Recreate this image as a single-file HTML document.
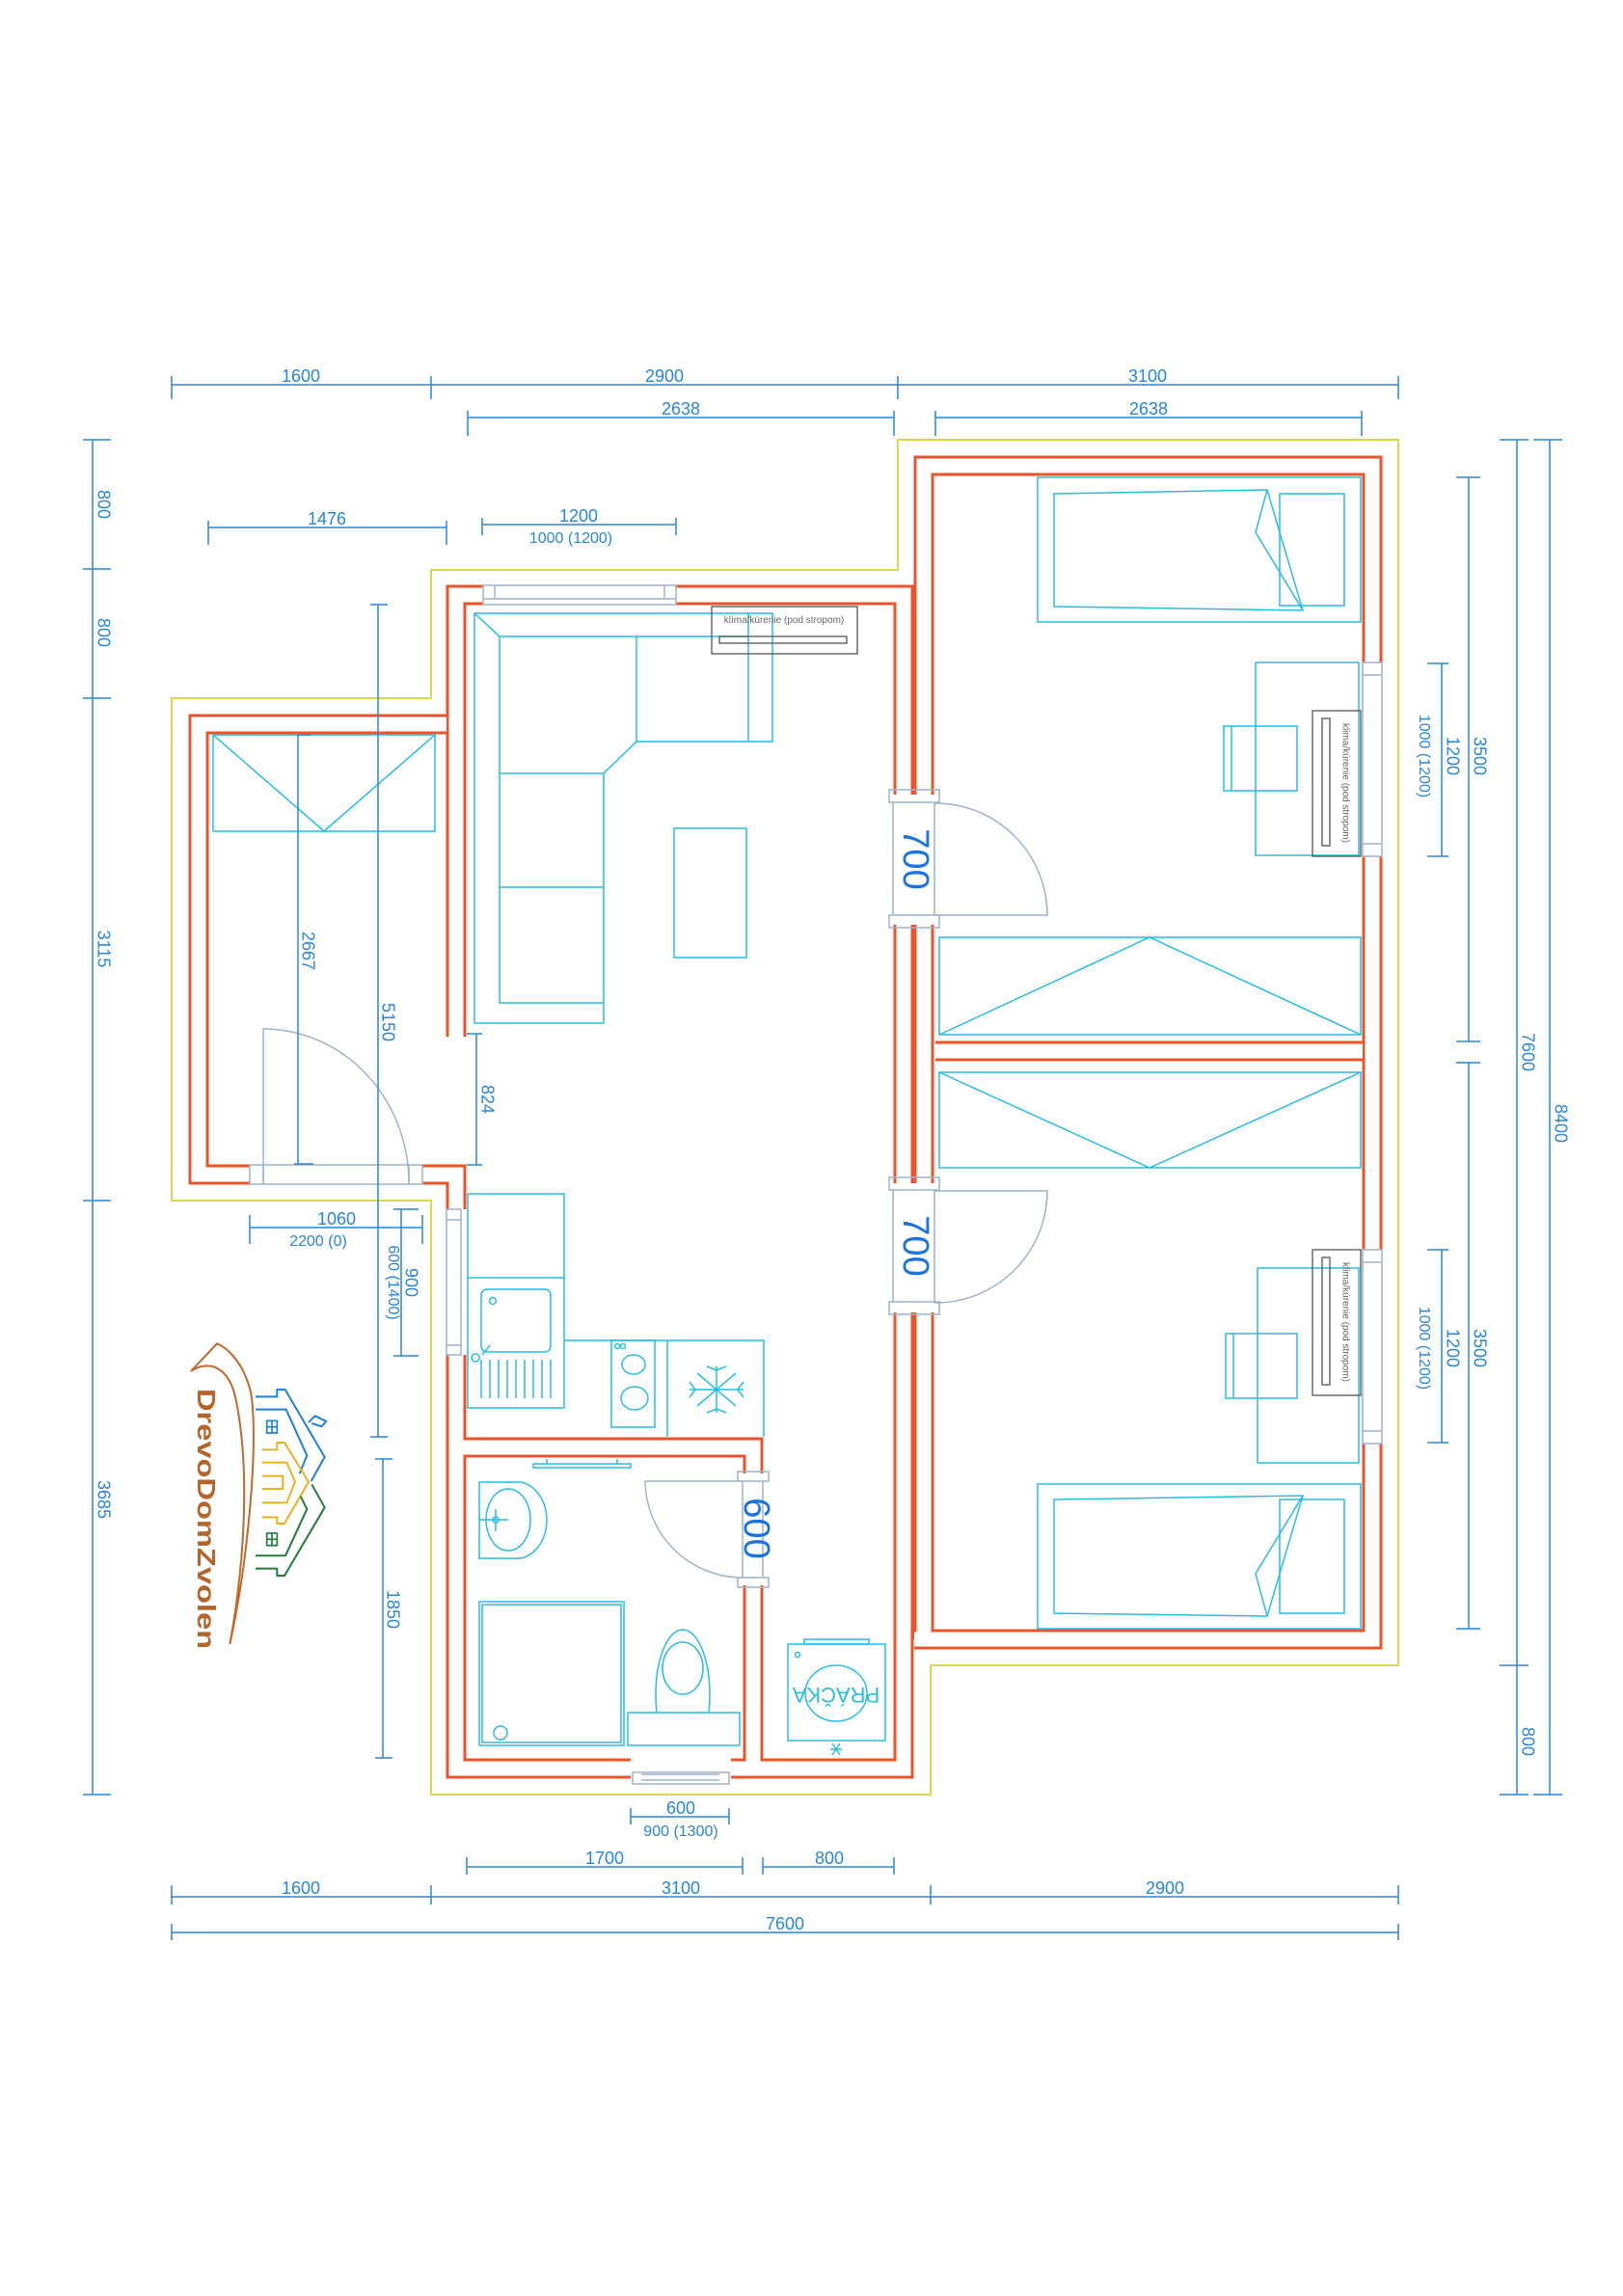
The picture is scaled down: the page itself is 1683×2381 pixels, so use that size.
<!DOCTYPE html>
<html><head><meta charset="utf-8"><style>
html,body{margin:0;padding:0;background:#fff}
svg{display:block}
text{font-family:"Liberation Sans",sans-serif}
</style></head><body>
<svg width="1683" height="2381" viewBox="0 0 1683 2381" xmlns="http://www.w3.org/2000/svg">
<rect width="1683" height="2381" fill="#fff"/>

<!-- yellow outline -->
<polygon points="178,724 447,724 447,591 931,591 931,456 1450,456 1450,1727 965,1727 965,1861 447,1861 447,1245 178,1245" fill="none" stroke="#d9d94a" stroke-width="2"/>

<!-- walls -->
<g fill="none" stroke-linejoin="miter" stroke-linecap="butt">
<g id="w" stroke="#e8552c" stroke-width="21">
 <path d="M958,824 V483 H1423 V687 M1423,888 V1296 M1423,1497 V1700 H948"/>
 <path d="M958,959 V1227 M958,1361 V1700"/>
 <path d="M937,824 V617 H701 M501,617 H473 V1075"/>
 <path d="M937,959 V1227 M937,1361 V1834 H758 M654,1834 H473 V1405"/>
 <path d="M473,1254 V1218 H438"/>
 <path d="M463,751 H206 V1218 H259"/>
 <path d="M473,1501 H781 V1528 M781,1644 V1834"/>
 <path d="M970,1090 H1413"/>
</g>
<g stroke="#fff" stroke-width="15">
 <path d="M958,824 V483 H1423 V687 M1423,888 V1296 M1423,1497 V1700 H948"/>
 <path d="M958,959 V1227 M958,1361 V1700"/>
 <path d="M937,824 V617 H701 M501,617 H473 V1075"/>
 <path d="M937,959 V1227 M937,1361 V1834 H758 M654,1834 H473 V1405"/>
 <path d="M473,1254 V1218 H438"/>
 <path d="M463,751 H206 V1218 H259"/>
 <path d="M473,1501 H781 V1528 M781,1644 V1834"/>
 <path d="M970,1090 H1413"/>
</g>
</g>

<!-- windows / door frames (gray) -->
<g fill="none" stroke="#9fb3c8" stroke-width="1.5">
 <rect x="501" y="607" width="200" height="20"/><line x1="513" y1="607" x2="513" y2="621"/><line x1="689" y1="607" x2="689" y2="621"/><line x1="501" y1="621" x2="701" y2="621"/>
 <rect x="1413" y="687" width="20" height="201"/><line x1="1413" y1="700" x2="1433" y2="700"/><line x1="1413" y1="875" x2="1433" y2="875"/>
 <rect x="1413" y="1296" width="20" height="201"/><line x1="1413" y1="1309" x2="1433" y2="1309"/><line x1="1413" y1="1484" x2="1433" y2="1484"/>
 <rect x="463" y="1254" width="15" height="151"/><line x1="463" y1="1265" x2="478" y2="1265"/><line x1="463" y1="1395" x2="478" y2="1395"/>
 <rect x="656" y="1838" width="100" height="12"/><line x1="665" y1="1840" x2="746" y2="1840"/><line x1="665" y1="1846" x2="746" y2="1846"/>
 <rect x="259" y="1208" width="179" height="20"/><line x1="273" y1="1208" x2="273" y2="1228"/><line x1="424" y1="1208" x2="424" y2="1228"/>
 <rect x="922" y="819" width="52" height="13"/><rect x="922" y="949" width="52" height="13"/>
 <line x1="926" y1="832" x2="926" y2="949"/><line x1="969" y1="832" x2="969" y2="949"/>
 <rect x="922" y="1221" width="52" height="13"/><rect x="922" y="1350" width="52" height="13"/>
 <line x1="926" y1="1234" x2="926" y2="1350"/><line x1="969" y1="1234" x2="969" y2="1350"/>
 <rect x="765" y="1526" width="32" height="10"/><rect x="765" y="1636" width="32" height="10"/>
 <line x1="770" y1="1536" x2="770" y2="1636"/><line x1="791" y1="1536" x2="791" y2="1636"/>
 <path d="M969,833 A116,116 0 0 1 1086,949 H969"/>
 <path d="M969,1351 A116,116 0 0 0 1086,1235 H969"/>
 <path d="M770,1636 A101,101 0 0 1 669,1536 H770"/>
 <path d="M273,1227 V1067 A151,160 0 0 1 424,1227"/>
</g>

<!-- furniture cyan -->
<g fill="none" stroke="#29bde0" stroke-width="1.5">
 <!-- left room shelf -->
 <rect x="221" y="762" width="230" height="100"/><polyline points="221,762 336,862 451,762"/>
 <!-- sofa -->
 <path d="M492,636 H801 V769 H660 L626,802 V1061 H492 Z"/>
 <path d="M492,636 L518,660 H776 V769 M518,660 V1040 H626 M518,802 H626 M518,920 H626 M660,660 V769 M776,660 V636"/>
 <rect x="699" y="859" width="75" height="134"/>
 <!-- wardrobes -->
 <rect x="974" y="972" width="437" height="101"/><polyline points="974,1073 1192,972 1411,1073"/>
 <rect x="974" y="1112" width="437" height="99"/><polyline points="974,1112 1192,1211 1411,1112"/>
 <!-- bed 1 -->
 <rect x="1076" y="495" width="335" height="150"/>
 <rect x="1327" y="512" width="67" height="116"/>
 <polygon points="1093,512 1314,508 1351,633 1093,629"/>
 <polyline points="1314,508 1302,552 1351,633"/>
 <!-- desk 1 -->
 <rect x="1302" y="687" width="107" height="200"/><rect x="1269" y="753" width="76" height="67"/><line x1="1277" y1="753" x2="1277" y2="820"/>
 <!-- bed 2 -->
 <rect x="1076" y="1539" width="335" height="150"/>
 <rect x="1327" y="1555" width="67" height="118"/>
 <polygon points="1093,1555 1351,1551 1314,1676 1093,1673"/>
 <polyline points="1351,1551 1302,1632 1314,1676"/>
 <!-- desk 2 -->
 <rect x="1304" y="1315" width="105" height="202"/><rect x="1271" y="1383" width="74" height="67"/><line x1="1279" y1="1383" x2="1279" y2="1450"/>
 <!-- kitchen -->
 <rect x="485" y="1238" width="100" height="222"/><line x1="485" y1="1325" x2="585" y2="1325"/>
 <rect x="499" y="1337" width="72" height="65" rx="6"/><circle cx="511" cy="1349" r="3.5"/>
 <path d="M500,1405 L508,1395 M493,1404 a4,4 0 1 0 0.1,0"/>
 <path d="M499,1410 V1450 M508,1410 V1450 M517,1410 V1450 M526,1410 V1450 M535,1410 V1450 M544,1410 V1450 M553,1410 V1450 M562,1410 V1450 M571,1410 V1450"/>
 <path d="M585,1390 H792 V1490 M692,1390 V1490"/>
 <rect x="634" y="1390" width="45" height="90"/><ellipse cx="657" cy="1415" rx="12" ry="10"/><ellipse cx="658" cy="1450" rx="14" ry="12"/>
 <circle cx="640" cy="1396" r="2.5"/><circle cx="646" cy="1396" r="2.5"/>
 <g transform="translate(743,1441)">
  <path d="M-28,0 H28 M0,-24 V24 M-20,-17 L20,17 M-20,17 L20,-17 M-10,-24 L0,-20 L10,-24 M-10,24 L0,20 L10,24 M-28,-8 L-22,0 L-28,8 M28,-8 L22,0 L28,8"/>
 </g>
 <!-- bathroom -->
 <rect x="553" y="1518" width="101" height="4"/><path d="M567,1513 V1518 M640,1513 V1518"/>
 <path d="M497,1537 H540 A32,40 0 0 1 540,1616 H497 Z"/><ellipse cx="527" cy="1576" rx="23" ry="32"/><path d="M497,1576 H527 M514,1565 V1588"/><circle cx="514" cy="1576" r="3"/>
 <rect x="497" y="1661" width="150" height="149"/><rect x="500" y="1664" width="144" height="143"/><ellipse cx="519" cy="1797" rx="7" ry="7"/>
 <rect x="651" y="1776" width="116" height="34"/>
 <path d="M681,1776 C676,1730 690,1690 708,1690 C726,1690 740,1730 735,1776"/><ellipse cx="708" cy="1730" rx="21" ry="27"/>
 <rect x="817" y="1705" width="101" height="100"/><rect x="834" y="1700" width="67" height="5"/><circle cx="827" cy="1716" r="2.5"/>
 <ellipse cx="867" cy="1756" rx="32" ry="29"/>
 <path d="M863,1808 L871,1820 M871,1808 L863,1820 M861,1814 H873"/>
</g>
<text transform="translate(867,1756) rotate(180)" text-anchor="middle" dominant-baseline="middle" font-size="22" fill="#29bde0">PRÁČKA</text>

<!-- klima units -->
<g fill="none" stroke="#555" stroke-width="1.3">
 <rect x="738" y="629" width="151" height="49"/><rect x="746" y="660" width="132" height="7"/>
 <rect x="1361" y="737" width="50" height="151"/><rect x="1371" y="745" width="8" height="132"/>
 <rect x="1361" y="1296" width="50" height="151"/><rect x="1371" y="1304" width="8" height="132"/>
</g>
<g fill="#666" font-size="10">
 <text x="813" y="646" text-anchor="middle">klíma/kúrenie (pod stropom)</text>
 <text transform="translate(1395,812) rotate(90)" text-anchor="middle" dominant-baseline="middle">klima/kúrenie (pod stropom)</text>
 <text transform="translate(1395,1371) rotate(90)" text-anchor="middle" dominant-baseline="middle">klima/kúrenie (pod stropom)</text>
</g>

<!-- big door labels -->
<g fill="#1a73e0" font-size="38">
 <text transform="translate(947,891) rotate(90)" text-anchor="middle" dominant-baseline="middle">700</text>
 <text transform="translate(947,1292) rotate(90)" text-anchor="middle" dominant-baseline="middle">700</text>
 <text transform="translate(782,1585) rotate(90)" text-anchor="middle" dominant-baseline="middle">600</text>
</g>

<!-- dimension lines -->
<g stroke="#2a86d8" stroke-width="1.5" fill="none">
 <path d="M178,399 H1450 M178,390 V414 M447,390 V414 M931,390 V414 M1450,390 V414"/>
 <path d="M485,433 H927 M485,426 V452 M927,426 V452"/>
 <path d="M970,433 H1412 M970,426 V452 M1412,426 V452"/>
 <path d="M216,547 H463 M216,540 V565 M463,540 V565"/>
 <path d="M500,544 H701 M500,537 V555 M701,537 V555"/>
 <path d="M96,456 V1861 M86,456 H115 M86,590 H115 M86,724 H115 M86,1245 H115 M86,1861 H115"/>
 <path d="M1523,495 V1080 M1510,495 H1535 M1510,1080 H1535 M1523,1102 V1689 M1510,1102 H1535 M1510,1689 H1535"/>
 <path d="M1495,688 V888 M1480,688 H1502 M1480,888 H1502 M1495,1296 V1496 M1480,1296 H1502 M1480,1496 H1502"/>
 <path d="M1573,456 V1861 M1555,456 H1585 M1555,1727 H1585 M1555,1861 H1585"/>
 <path d="M1607,456 V1861 M1590,456 H1620 M1590,1861 H1620"/>
 <path d="M309,762 V1207 M309,762 H322 M305,1207 H325"/>
 <path d="M392,627 V1490 M384,627 H402 M384,1490 H402 M397,1513 V1823 M389,1513 H407 M389,1823 H407"/>
 <path d="M494,1072 V1208 M484,1072 H500 M484,1208 H500"/>
 <path d="M259,1273 H438 M259,1260 V1290 M438,1260 V1290"/>
 <path d="M416,1254 V1406 M408,1254 H434 M408,1406 H434"/>
 <path d="M654,1884 H756 M654,1875 V1892 M756,1875 V1892"/>
 <path d="M484,1936 H770 M484,1926 V1944 M770,1926 V1944 M791,1936 H927 M791,1926 V1944 M927,1926 V1944"/>
 <path d="M178,1967 H1450 M178,1955 V1975 M447,1955 V1975 M965,1955 V1975 M1450,1955 V1975"/>
 <path d="M178,2004 H1450 M178,1995 V2012 M1450,1995 V2012"/>
</g>
<g fill="#2a86d8" font-size="18" text-anchor="middle">
 <text x="312" y="396">1600</text><text x="689" y="396">2900</text><text x="1190" y="396">3100</text>
 <text x="706" y="430">2638</text><text x="1191" y="430">2638</text>
 <text x="339" y="544">1476</text><text x="600" y="541">1200</text>
 <text x="592" y="563" font-size="16">1000 (1200)</text>
 <text x="349" y="1270">1060</text><text x="330" y="1292" font-size="16">2200 (0)</text>
 <text x="706" y="1881">600</text><text x="706" y="1904" font-size="16">900 (1300)</text>
 <text x="627" y="1933">1700</text><text x="860" y="1933">800</text>
 <text x="312" y="1964">1600</text><text x="706" y="1964">3100</text><text x="1208" y="1964">2900</text>
 <text x="814" y="2001">7600</text>
</g>
<g fill="#2a86d8" font-size="18" text-anchor="middle" dominant-baseline="middle">
 <text transform="translate(106,523) rotate(90)">800</text>
 <text transform="translate(106,656) rotate(90)">800</text>
 <text transform="translate(106,984) rotate(90)">3115</text>
 <text transform="translate(106,1555) rotate(90)">3685</text>
 <text transform="translate(318,986) rotate(90)">2667</text>
 <text transform="translate(401,1060) rotate(90)">5150</text>
 <text transform="translate(504,1140) rotate(90)">824</text>
 <text transform="translate(425,1330) rotate(90)">900</text>
 <text transform="translate(407,1330) rotate(90)" font-size="16">600 (1400)</text>
 <text transform="translate(406,1669) rotate(90)">1850</text>
 <text transform="translate(1533,784) rotate(90)">3500</text>
 <text transform="translate(1505,784) rotate(90)">1200</text>
 <text transform="translate(1476,784) rotate(90)" font-size="16">1000 (1200)</text>
 <text transform="translate(1533,1398) rotate(90)">3500</text>
 <text transform="translate(1505,1398) rotate(90)">1200</text>
 <text transform="translate(1476,1398) rotate(90)" font-size="16">1000 (1200)</text>
 <text transform="translate(1583,1091) rotate(90)">7600</text>
 <text transform="translate(1583,1806) rotate(90)">800</text>
 <text transform="translate(1617,1165) rotate(90)">8400</text>
</g>

<!-- logo -->
<g transform="translate(180,1380) scale(0.3333)" fill="none" stroke-width="6" stroke-linejoin="round">
 <path d="M175,975 C235,700 265,330 240,190 C215,90 160,50 135,40 L55,125 C110,90 175,110 195,220 C235,420 225,700 175,975" stroke="#c0692c"/>
 <path d="M255,205 H322 V183 H347 L470,393 L428,468 M255,245 H350 L415,388 L392,445" stroke="#1f7fe0"/>
 <path d="M420,285 L440,265 L475,282 L460,298 L430,288" stroke="#1f7fe0"/>
 <path d="M290,280 H322 V318 H290 Z M306,280 V318 M290,299 H322" stroke="#1f7fe0" stroke-width="5"/>
 <path d="M275,370 H322 V348 H345 L420,470 L345,600 H322 V580 H275 M275,410 H352 L378,470 L352,535 H275 M275,452 H340 V492 H275" stroke="#e8b21e"/>
 <path d="M255,740 H322 V762 H345 L470,550 L430,478 M255,700 H348 L415,555 L395,515" stroke="#237a3a"/>
 <path d="M290,630 H322 V668 H290 Z M306,630 V668 M290,649 H322" stroke="#237a3a" stroke-width="5"/>
</g>
<text transform="translate(212,1575) rotate(90)" text-anchor="middle" dominant-baseline="middle" font-family="Liberation Serif,serif" font-weight="bold" font-size="26" fill="#b5652a" textLength="270" lengthAdjust="spacingAndGlyphs">DrevoDomZvolen</text>
</svg>
</body></html>
